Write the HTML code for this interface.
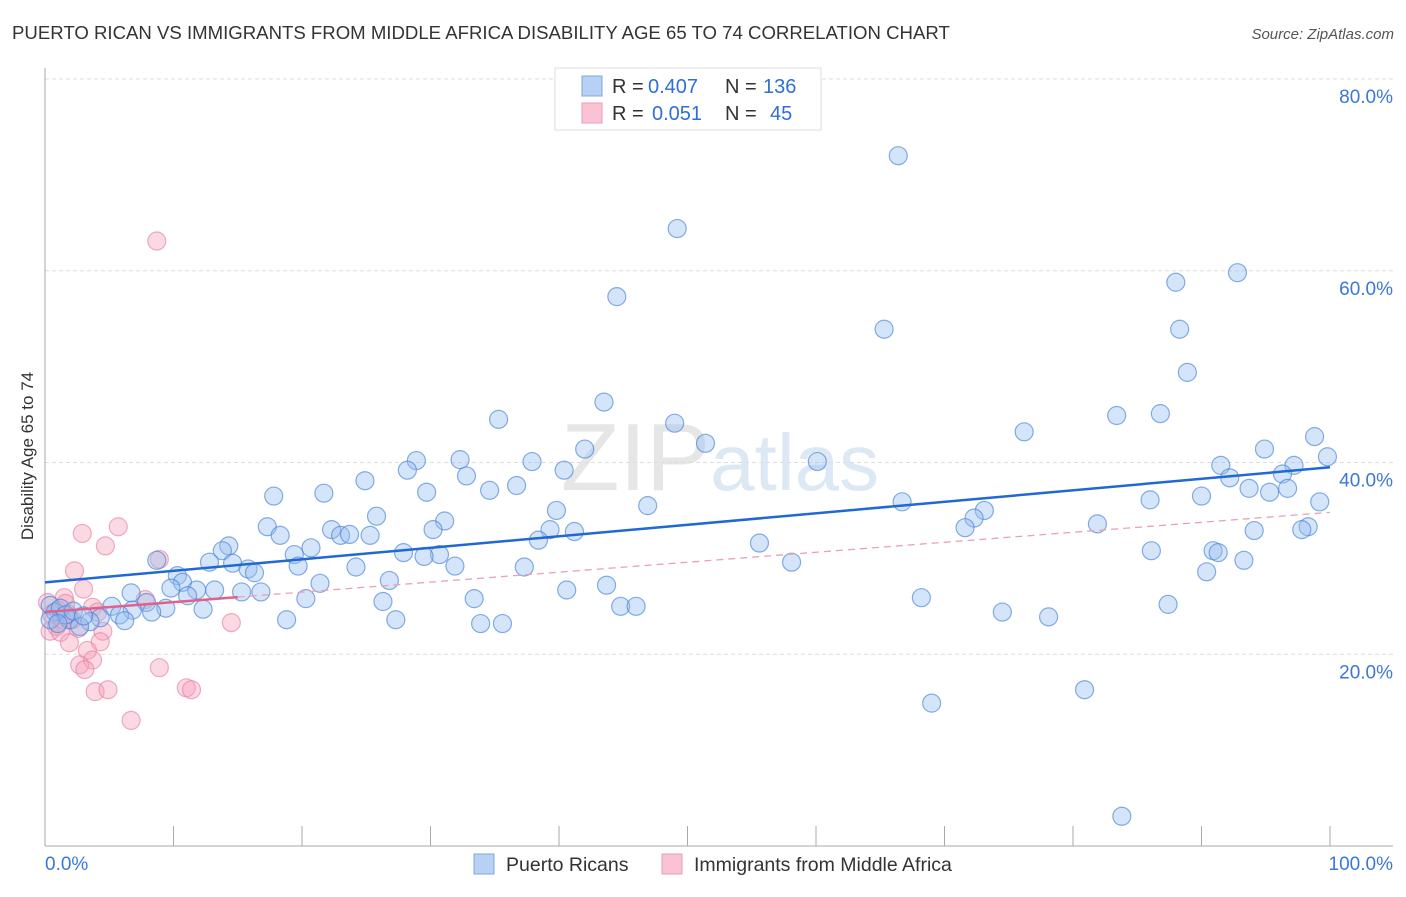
<!DOCTYPE html>
<html><head><meta charset="utf-8"><style>
body{margin:0;background:#fff;font-family:"Liberation Sans",sans-serif}
svg text{font-family:"Liberation Sans",sans-serif}
</style></head><body>
<svg id="chart" width="1406" height="892" xmlns="http://www.w3.org/2000/svg">
<text x="12" y="39" font-size="18.6" fill="#333">PUERTO RICAN VS IMMIGRANTS FROM MIDDLE AFRICA DISABILITY AGE 65 TO 74 CORRELATION CHART</text>
<text x="1394" y="39" font-size="15" fill="#555" text-anchor="end" font-style="italic">Source: ZipAtlas.com</text>
<text x="720" y="490" font-size="96" fill="#e6e6e6" text-anchor="middle" font-family="Liberation Serif"><tspan>ZIP</tspan><tspan fill="#dde8f5" font-family="Liberation Sans" font-size="80">atlas</tspan></text>
<g id="grid"></g><g id="axes"></g><g id="marks"></g>
<text transform="translate(33,456) rotate(-90)" font-size="17" fill="#333" text-anchor="middle">Disability Age 65 to 74</text>
<g>
<rect x="555" y="68" width="266" height="62" fill="#fff" stroke="#ddd"/>
<rect x="582" y="76" width="20" height="20" fill="#b7d1f4" stroke="#7ea8e0"/>
<rect x="582" y="103" width="20" height="20" fill="#f9c3d3" stroke="#ee9bb6"/>
<text x="612" y="93" font-size="20" fill="#333">R =</text>
<text x="648" y="93" font-size="20" fill="#2f6fd6">0.407</text>
<text x="725" y="93" font-size="20" fill="#333">N =</text>
<text x="763" y="93" font-size="20" fill="#2f6fd6">136</text>
<text x="612" y="120" font-size="20" fill="#333">R =</text>
<text x="652" y="120" font-size="20" fill="#2f6fd6">0.051</text>
<text x="725" y="120" font-size="20" fill="#333">N =</text>
<text x="770" y="120" font-size="20" fill="#2f6fd6">45</text>
</g>
<g>
<rect x="474" y="854" width="20" height="20" fill="#b7d1f4" stroke="#7ea8e0"/>
<text x="506" y="871" font-size="19.5" fill="#333">Puerto Ricans</text>
<rect x="662" y="854" width="20" height="20" fill="#f9c3d3" stroke="#ee9bb6"/>
<text x="694" y="871" font-size="19.5" fill="#333">Immigrants from Middle Africa</text>
</g>
</svg>
<script>
const yTicks=[20,40,60,80];
const yTickLabels=["20.0%","40.0%","60.0%","80.0%"];
const xTicks=[0,10,20,30,40,50,60,70,80,90,100];
const blueX=[66.4,49.2,44.5,88.0,92.8,65.3,88.3,88.9,43.5,35.3,83.4,86.8,49.0,76.2,51.4,42.0,98.8,94.9,99.8,32.3,28.9,37.9,60.1,28.2,40.4,91.5,97.2,32.8,96.3,92.2,24.9,36.7,34.6,29.7,93.7,96.7,95.3,21.7,90.0,17.8,86.0,99.2,66.7,46.9,39.8,25.8,73.1,31.1,72.3,17.3,22.3,81.9,30.2,71.6,39.3,41.2,94.1,98.3,97.8,23.0,23.7,25.3,18.3,38.4,14.3,55.6,13.8,20.7,86.1,90.9,91.3,27.9,30.7,19.4,29.5,8.7,12.8,93.3,14.6,58.1,31.9,19.7,37.3,15.8,24.2,16.3,90.4,10.3,26.8,10.7,21.4,9.8,43.7,40.6,11.8,13.2,6.7,15.3,16.8,11.1,68.2,20.3,33.4,26.3,87.4,44.8,46.0,7.9,5.2,9.4,12.3,6.8,74.5,8.3,5.8,78.1,4.3,6.2,18.8,27.3,33.9,35.6,3.5,1.9,2.7,80.9,69.0,83.8,0.4,0.8,1.2,1.6,0.4,1.0,2.2,3.0];
const blueY=[72.0,64.4,57.3,58.8,59.8,53.9,53.9,49.4,46.3,44.5,44.9,45.1,44.1,43.2,42.0,41.4,42.7,41.4,40.6,40.3,40.2,40.1,40.1,39.2,39.2,39.7,39.7,38.6,38.8,38.4,38.1,37.6,37.1,36.9,37.3,37.3,36.9,36.8,36.5,36.5,36.1,35.9,35.9,35.5,35.0,34.4,35.0,33.9,34.2,33.3,33.0,33.6,33.0,33.2,33.0,32.8,32.9,33.3,33.0,32.4,32.5,32.4,32.4,31.9,31.3,31.6,30.8,31.1,30.8,30.8,30.6,30.6,30.4,30.4,30.2,29.8,29.6,29.8,29.5,29.6,29.2,29.2,29.1,28.9,29.1,28.5,28.6,28.2,27.7,27.5,27.4,26.9,27.2,26.7,26.7,26.7,26.4,26.5,26.5,26.1,25.9,25.8,25.8,25.5,25.2,25.0,25.0,25.4,25.0,24.8,24.7,24.6,24.4,24.4,24.1,23.9,23.8,23.5,23.6,23.6,23.2,23.2,23.4,23.6,22.9,16.3,14.9,3.1,25.1,24.4,24.8,24.1,23.6,23.2,24.5,24.0];
const pinkX=[8.7,2.9,5.7,4.7,8.9,2.3,3.0,7.8,1.5,3.7,4.1,0.2,0.5,1.0,1.3,1.8,0.9,0.4,14.5,1.2,2.6,4.5,1.9,4.3,3.3,3.7,2.7,3.1,8.9,3.9,4.9,11.0,11.4,6.7,2.1,1.6];
const pinkY=[63.1,32.6,33.3,31.3,29.9,28.7,26.8,25.7,25.9,24.9,24.4,25.4,24.2,24.6,23.6,24.2,22.9,22.4,23.3,22.3,22.7,22.4,21.2,21.3,20.4,19.4,18.9,18.4,18.6,16.1,16.3,16.5,16.3,13.1,23.6,25.3];
const blueTrend=[27.5,39.5];
const pinkTrend=[24.4,34.8];
const NS='http://www.w3.org/2000/svg';
const X0=45,X1=1330,YB=846,YT=79;
const sx=v=>X0+(X1-X0)*v/100;
const sy=v=>YB-(YB-YT)*v/80;
function mk(tag,attrs,parent){const e=document.createElementNS(NS,tag);for(const k in attrs)e.setAttribute(k,attrs[k]);parent.appendChild(e);return e;}
const grid=document.getElementById('grid'),axes=document.getElementById('axes'),marks=document.getElementById('marks');
yTicks.forEach((t,i)=>{
  const l=mk('line',{x1:X0,x2:1393,y1:sy(t),y2:sy(t),stroke:'#ddd','stroke-dasharray':'4,3'},grid);
  
  
  const tx=mk('text',{x:1393,y:sy(t)+24,'font-size':'19',fill:'#3a78d8','text-anchor':'end'},axes);
  tx.textContent=yTickLabels[i];
  
  
});
let a=mk('line',{x1:X0,x2:X0,y1:68,y2:YB,stroke:'#aaa'},axes);


a=mk('line',{x1:X0,x2:1393,y1:YB,y2:YB,stroke:'#aaa'},axes);


xTicks.forEach(t=>{
  if(t===0)return;
  const l=mk('line',{x1:sx(t),x2:sx(t),y1:826,y2:YB,stroke:'#aaa'},axes);
  
  
});
[[0,'0.0%','start',45],[100,'100.0%','end',1393]].forEach(d=>{
  const tx=mk('text',{x:d[3],y:870,'font-size':'19',fill:'#3a78d8','text-anchor':d[2]},axes);
  tx.textContent=d[1];
  
  
});
pinkX.forEach((x,i)=>{
  const c=mk('circle',{cx:sx(x),cy:sy(pinkY[i]),r:9,fill:'rgba(244,160,186,0.4)',stroke:'rgba(232,120,156,0.6)','stroke-width':1.2},marks);
  
  
});
blueX.forEach((x,i)=>{
  const c=mk('circle',{cx:sx(x),cy:sy(blueY[i]),r:9,fill:'rgba(150,190,240,0.4)',stroke:'rgba(70,130,215,0.65)','stroke-width':1.2},marks);
  
  
});
const pv=x=>pinkTrend[0]+(pinkTrend[1]-pinkTrend[0])*x/100;
let t=mk('line',{x1:sx(15),y1:sy(pv(15)),x2:sx(100),y2:sy(pv(100)),stroke:'#eaa0b8','stroke-width':1.3,'stroke-dasharray':'7,5'},marks);


t=mk('line',{x1:sx(0),y1:sy(pv(0)),x2:sx(15),y2:sy(pv(15)),stroke:'#e0628c','stroke-width':2.5},marks);


t=mk('line',{x1:sx(0),y1:sy(blueTrend[0]),x2:sx(100),y2:sy(blueTrend[1]),stroke:'#2068d4','stroke-width':2.5},marks);


</script>
</body></html>
